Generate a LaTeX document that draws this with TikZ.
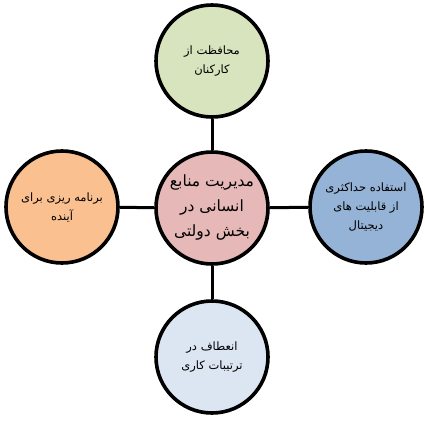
\documentclass[tikz,border=0pt]{standalone}
\usepackage{fontspec}
\newfontfamily\arabicfont[Script=Arabic]{DejaVu Sans}
\TeXXeTstate=1
\newcommand{\rl}[1]{\beginR #1\endR}
\definecolor{cpink}{HTML}{E6B9B8}
\definecolor{cgreen}{HTML}{D7E4BD}
\definecolor{cblue}{HTML}{95B3D7}
\definecolor{corange}{HTML}{FAC090}
\definecolor{clight}{HTML}{DCE6F2}
\tikzset{
  bubble/.style={circle, draw=black, line width=3.6pt, minimum size=112pt, inner sep=0pt, align=center, font=\arabicfont\fontsize{11.5}{19}\selectfont},
  hub/.style={bubble, font=\arabicfont\fontsize{15.5}{25}\selectfont},
  link/.style={draw=black, line width=3pt}
}
\begin{document}
\begin{tikzpicture}[x=1pt,y=-1pt]
\useasboundingbox (0,0) rectangle (425,420);
\node[hub, fill=cpink] (c) at (212,208) {\rl{مدیریت منابع}\\\rl{انسانی در}\\\rl{بخش دولتی}};
\node[bubble, fill=cgreen] (t) at (212,61) {\rl{محافظت از}\\\rl{کارکنان}};
\node[bubble, fill=cblue] (r) at (366,207) {\rl{استفاده حداکثری}\\\rl{از قابلیت های}\\\rl{دیجیتال}};
\node[bubble, fill=corange] (l) at (62,207) {\rl{برنامه ریزی برای}\\\rl{آینده}};
\node[bubble, fill=clight] (b) at (212,357) {\rl{انعطاف در}\\\rl{ترتیبات کاری}};
\draw[link] (c) -- (t);
\draw[link] (c) -- (r);
\draw[link] (c) -- (l);
\draw[link] (c) -- (b);
\end{tikzpicture}
\end{document}
